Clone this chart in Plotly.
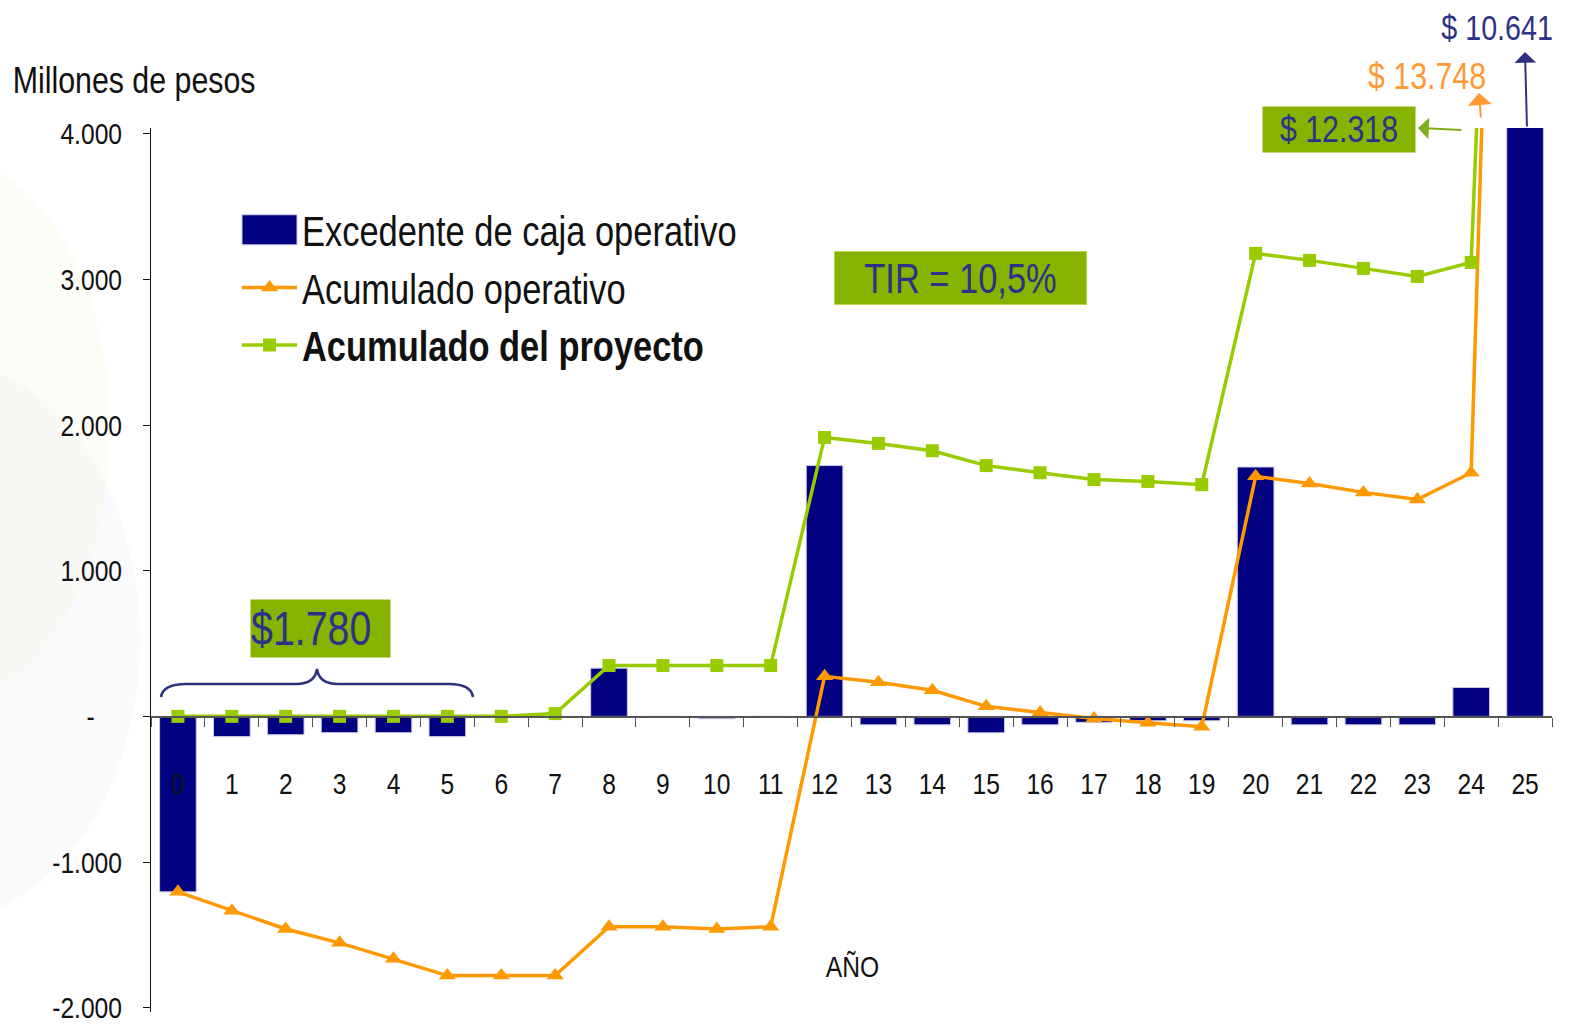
import plotly.graph_objects as go

# ---------------- data ----------------
years = [str(i) for i in range(26)]
excedente = [-1205, -139, -126, -112, -112, -139, 0, 0, 331, 0, -16, 0,
             1722, -58, -58, -113, -58, -41, -30, -30, 1712, -58, -58, -58, 198, 10641]
acum_operativo = [-1205, -1335, -1460, -1555, -1665, -1780, -1780, -1780, -1445, -1445, -1460, -1445,
                  275, 234, 179, 69, 27, -14, -44, -71, 1648, 1599, 1538, 1489, 1673, 13748]
acum_proyecto = [0, 0, 0, 0, 0, 0, 0, 19, 349, 349, 349, 349,
                 1915, 1874, 1824, 1722, 1673, 1626, 1613, 1591, 3179, 3131, 3076, 3021, 3117, 12318]
y_tickvals = [-2000, -1000, 0, 1000, 2000, 3000, 4000]
y_ticktext = ["-2.000", "-1.000", "-\u00a0\u00a0\u00a0\u00a0", "1.000", "2.000", "3.000", "4.000"]

FONT = "Liberation Sans, Arial, sans-serif"
NAVY = "#000080"
TXT_NAVY = "#2E3188"
ORANGE = "#FF9900"
GREEN = "#99CC00"
BOX_GREEN = "#86B300"

W, H = 1575, 1024
ML, MR, MT, MB = 151, 23, 128, 12
PW, PH = W - ML - MR, H - MT - MB


def px(x):
    return (x - ML) / PW


def py(y):
    return (H - MB - y) / PH


fig = go.Figure()
fig.add_trace(go.Bar(x=years, y=excedente, name="Excedente de caja operativo",
                     marker=dict(color=NAVY, line=dict(color="#C8C8E8", width=1))))
fig.add_trace(go.Scatter(x=years, y=acum_operativo, name="Acumulado operativo", mode="lines+markers",
                         line=dict(color=ORANGE, width=3.5),
                         marker=dict(symbol="triangle-up", size=15, color=ORANGE)))
fig.add_trace(go.Scatter(x=years, y=acum_proyecto, name="<b>Acumulado del proyecto</b>", mode="lines+markers",
                         line=dict(color=GREEN, width=3.5),
                         marker=dict(symbol="square", size=13, color=GREEN)))

ann = []
ann.append(dict(text="Millones de pesos", xref="paper", yref="paper", x=px(134), y=py(81),
                xanchor="center", yanchor="middle", showarrow=False, font=dict(size=37, color="#111111")))
ann.append(dict(text="AÑO", xref="paper", yref="paper", x=px(852), y=py(966),
                xanchor="center", yanchor="middle", showarrow=False, font=dict(size=30, color="#111111")))
ann.append(dict(text="TIR = 10,5%", xref="paper", yref="paper", x=px(960), y=py(278),
                xanchor="center", yanchor="middle", showarrow=False, width=251, height=52, borderpad=0,
                bgcolor=BOX_GREEN, bordercolor="#B5D94A", borderwidth=1,
                font=dict(size=42, color=TXT_NAVY)))
ann.append(dict(text="$1.780", xref="paper", yref="paper", x=px(320.5), y=py(628.5),
                xanchor="center", yanchor="middle", showarrow=False, width=139, height=57, borderpad=0,
                align="left", bgcolor=BOX_GREEN, font=dict(size=48, color=TXT_NAVY)))
ann.append(dict(text="$ 12.318", xref="paper", yref="paper", x=px(1339), y=py(129.5),
                xanchor="center", yanchor="middle", showarrow=False, width=152, height=45, borderpad=0,
                bgcolor=BOX_GREEN, font=dict(size=37, color=TXT_NAVY)))
ann.append(dict(text="$ 13.748", xref="paper", yref="paper", x=px(1427), y=py(77),
                xanchor="center", yanchor="middle", showarrow=False,
                font=dict(size=37, color="#FF9933")))
ann.append(dict(text="$ 10.641", xref="paper", yref="paper", x=px(1497), y=py(28),
                xanchor="center", yanchor="middle", showarrow=False, borderpad=0,
                font=dict(size=35, color=TXT_NAVY)))
# arrows
ann.append(dict(text="", xref="paper", yref="paper", x=px(1525), y=py(52), ax=2, ay=76,
                showarrow=True, arrowhead=1, arrowsize=1.8, arrowwidth=2, arrowcolor="#2E3180", standoff=0))
ann.append(dict(text="", xref="paper", yref="paper", x=px(1479), y=py(93), ax=2, ay=26,
                showarrow=True, arrowhead=1, arrowsize=2.0, arrowwidth=2, arrowcolor="#FF9933", standoff=0))
ann.append(dict(text="", xref="paper", yref="paper", x=px(1418), y=py(128), ax=45, ay=2,
                showarrow=True, arrowhead=1, arrowsize=1.8, arrowwidth=2, arrowcolor="#7FAF1B", standoff=0))


def path(points):
    out = []
    for cmd, *coords in points:
        s = cmd
        for i in range(0, len(coords), 2):
            s += f" {px(coords[i]):.5f},{py(coords[i+1]):.5f}"
        out.append(s)
    return " ".join(out)


brace = path([("M", 161, 697), ("Q", 163, 684, 186, 684), ("L", 296, 684), ("Q", 315, 684, 317, 669),
              ("Q", 319, 684, 338, 684), ("L", 449, 684), ("Q", 471, 684, 473, 697)])
shapes = [
    dict(type="path", xref="paper", yref="paper", path=brace, line=dict(color="#2E3180", width=2.5)),
    # faint watermark swirl at left
    dict(type="circle", xref="paper", yref="paper", x0=px(-260), x1=px(140), y0=py(920), y1=py(360),
         fillcolor="rgba(230,230,246,0.22)", line=dict(width=0), layer="below"),
    dict(type="circle", xref="paper", yref="paper", x0=px(-210), x1=px(110), y0=py(700), y1=py(160),
         fillcolor="rgba(240,246,215,0.22)", line=dict(width=0), layer="below"),
]

fig.update_layout(
    width=W, height=H, margin=dict(l=ML, r=MR, t=MT, b=MB, autoexpand=False),
    paper_bgcolor="white", plot_bgcolor="rgba(0,0,0,0)",
    font=dict(family=FONT, color="#111111"),
    bargap=0.32,
    showlegend=True,
    legend=dict(x=px(237), y=py(196), xanchor="left", yanchor="top", bgcolor="rgba(0,0,0,0)",
                font=dict(size=42, color="#111111"), itemwidth=55, tracegroupgap=0),
    annotations=ann, shapes=shapes,
    xaxis=dict(type="category", range=[-0.5, 25.5], autorange=False, anchor="free", position=py(717),
               showline=True, linecolor="#555555", automargin=False,
               linewidth=1.5, ticks="outside", tickson="boundaries", ticklen=9, tickcolor="#555555",
               tickfont=dict(size=30, color="#111111"), ticklabelstandoff=40, showgrid=False, zeroline=False),
    yaxis=dict(range=[-2030, 4040], autorange=False, showline=True, linecolor="#111111", linewidth=1,
               ticks="outside", ticklen=7, tickcolor="#111111", tickvals=y_tickvals, ticktext=y_ticktext,
               ticklabeloverflow="allow", automargin=False,
               tickfont=dict(size=30, color="#111111"), ticklabelstandoff=15, showgrid=False, zeroline=False),
)

post = """
document.body.style.margin='0';document.body.style.overflow='hidden';
function condense(){
  try {
    var tr = document.querySelectorAll('.legend .traces');
    var lp = tr[1].querySelector('.legendlines path');
    var bb = lp.getBBox();
    var bp = tr[0].querySelector('.legendpoints path');
    bp.setAttribute('d', 'M'+bb.x+',-15H'+(bb.x+bb.width)+'V15H'+bb.x+'Z');
    bp.setAttribute('transform', lp.getAttribute('transform') || '');
  } catch(e) {}
  document.querySelectorAll('svg.main-svg text').forEach(function(t){
    try {
      if (t.getAttribute('data-cond')) return;
      var L = t.getComputedTextLength();
      if (L > 0) {
        t.setAttribute('textLength', (L*0.82).toFixed(2));
        t.setAttribute('lengthAdjust', 'spacingAndGlyphs');
        t.setAttribute('data-cond', '1');
      }
    } catch(e) {}
  });
}
condense();
"""

fig.write_html("out.html", post_script=post, config={"displayModeBar": False})
